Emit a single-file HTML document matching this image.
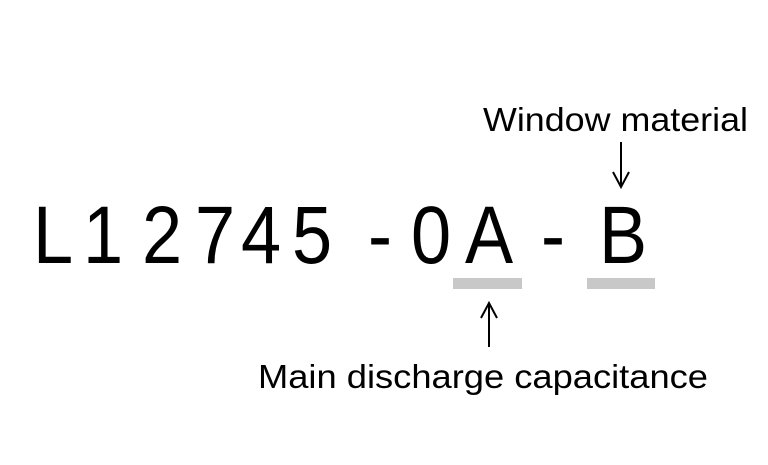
<!DOCTYPE html>
<html><head><meta charset="utf-8"><style>html,body{margin:0;padding:0;background:#fff}</style></head>
<body>
<svg width="768" height="460" xmlns="http://www.w3.org/2000/svg" font-family="Liberation Sans, Arial, sans-serif">
<rect width="768" height="460" fill="#fff"/>
<g font-size="82" fill="#000" text-anchor="middle">
<text transform="translate(53,263) scale(0.88,1)">L</text>
<text transform="translate(103,263) scale(0.88,1)">1</text>
<text transform="translate(162,263) scale(0.88,1)">2</text>
<text transform="translate(215,263) scale(0.88,1)">7</text>
<text transform="translate(261,263) scale(0.88,1)">4</text>
<text transform="translate(312,263) scale(0.88,1)">5</text>
<text transform="translate(380,263) scale(0.88,1)">-</text>
<text transform="translate(431,263) scale(0.88,1)">0</text>
<text transform="translate(489,263) scale(0.88,1)">A</text>
<text transform="translate(553,263) scale(0.88,1)">-</text>
<text transform="translate(623,263) scale(0.88,1)">B</text>
</g>
<rect x="453" y="278" width="69" height="11" fill="#c8c8c8"/>
<rect x="587" y="278" width="68" height="11" fill="#c8c8c8"/>
<g stroke="#000" stroke-width="2" fill="none">
<line x1="489" y1="303" x2="489" y2="347"/>
<polyline points="481,318 489,303 497,318"/>
<line x1="621" y1="142" x2="621" y2="187"/>
<polyline points="613,172 621,187 629,172"/>
</g>
<text x="483" y="131" font-size="33" textLength="265" lengthAdjust="spacingAndGlyphs">Window material</text>
<text x="258" y="388" font-size="33" textLength="450" lengthAdjust="spacingAndGlyphs">Main discharge capacitance</text>
</svg>
</body></html>
